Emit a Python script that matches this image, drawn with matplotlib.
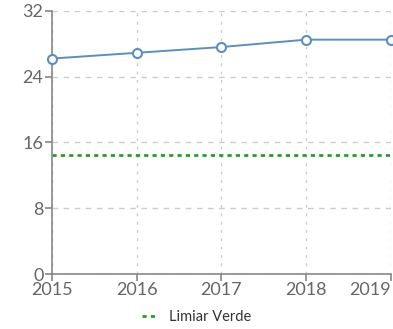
import matplotlib
matplotlib.use("Agg")
import matplotlib.pyplot as plt

years = [2015, 2016, 2017, 2018, 2019]
values = [26.2, 26.9, 27.6, 28.5, 28.5]
threshold = 14.5
y_ticks = [0, 8, 16, 24, 32]

plt.rcParams["font.family"] = ["Lato", "DejaVu Sans"]
text_col = "#666666"
grid_col = "#cccccc"

fig = plt.figure(figsize=(3.93, 3.29), dpi=100)
ax = fig.add_axes([0.132, 0.167, 0.863, 0.80])

ax.plot(years, values, "-o", color="#5b8fc0", lw=1.4, ms=6.5,
        mfc="white", mec="#5b8fc0", mew=1.5, clip_on=False, zorder=3)
ax.axhline(threshold, color="#2e9a2e", ls=(0, (1.5, 1.5)), lw=2,
           label="Limiar Verde", zorder=2)

ax.set_xlim(2015, 2019)
ax.set_ylim(0, 32)
ax.set_xticks(years)
ax.set_yticks(y_ticks)
ax.yaxis.grid(True, ls=(0, (4, 4)), color=grid_col, lw=1)
ax.xaxis.grid(True, ls=(0, (2, 4)), color=grid_col, lw=1)
ax.set_axisbelow(True)
for s in ["top", "right"]:
    ax.spines[s].set_visible(False)
for s in ["left", "bottom"]:
    ax.spines[s].set_color("#888888")
    ax.spines[s].set_linewidth(1.2)
ax.tick_params(colors="#888888", labelcolor=text_col, labelsize=13,
               length=5, width=1.2, pad=1)
# last year label sits against the right edge
ax.get_xticklabels()[-1].set_horizontalalignment("right")

fig.legend(loc="lower center", bbox_to_anchor=(0.5, -0.025), frameon=False,
           fontsize=10.5, handlelength=1.0, labelcolor="#333333")

fig.savefig("out.png", dpi=100)
